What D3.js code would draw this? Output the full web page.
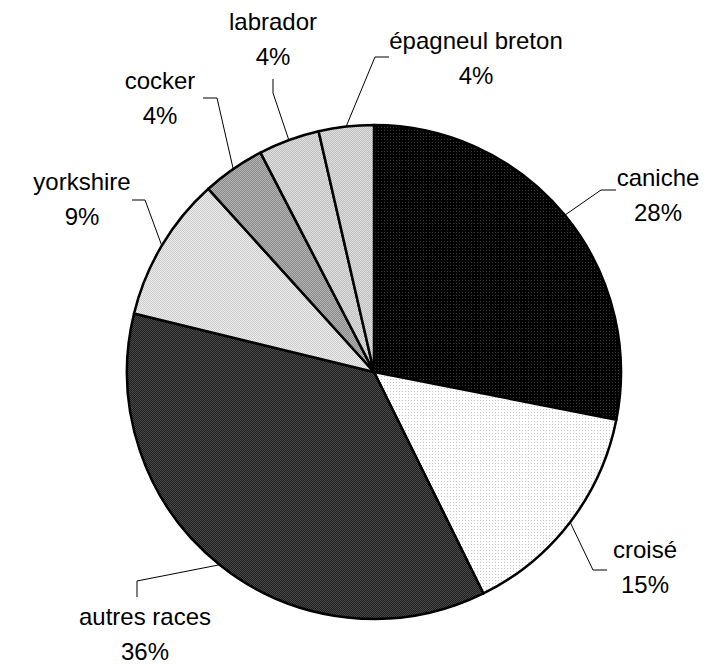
<!DOCTYPE html>
<html>
<head>
<meta charset="utf-8">
<script src="https://cdn.jsdelivr.net/npm/d3@7"></script>
<style>
html,body{margin:0;padding:0;background:#fff;}
svg{display:block;}
text{font-family:"Liberation Sans",Arial,sans-serif;font-size:24px;fill:#000;}
</style>
</head>
<body>
<svg id="chart" width="715" height="668"></svg>
<script>
// ---- data ----
const categories = ["caniche", "croisé", "autres races", "yorkshire", "cocker", "labrador", "épagneul breton"];
const values = [28.1, 14.6, 36.1, 9.5, 4.1, 4.0, 3.6];
const pctLabels = ["28%", "15%", "36%", "9%", "4%", "4%", "4%"];

// ---- layout (positions/styles, separate from data) ----
const cx = 374, cy = 372, R = 247;
const fills = [
  {bg:"#000", fg:"#3a3a3a", kind:"dots"},
  {bg:"#fff", fg:"#c8c8c8", kind:"dots"},
  {bg:"#1e1e1e", fg:"#4a4a4a", kind:"check"},
  {bg:"#f0f0f0", fg:"#c8c8c8", kind:"check"},
  {bg:"#8a8a8a", fg:"#b4b4b4", kind:"check"},
  {bg:"#bdbdbd", fg:"#e0e0e0", kind:"check"},
  {bg:"#bdbdbd", fg:"#e0e0e0", kind:"check"}
];
// leader elbow, leader end, label centre x and first baseline y
const labelLayout = [
  {elbow:[601,190], end:[616,190], x:658, y:186},
  {elbow:[593,570], end:[607,570], x:645, y:558},
  {elbow:[137,581], end:[137,597], x:145, y:625},
  {elbow:[145,200], end:[132,200], x:82,  y:190},
  {elbow:[217,98],  end:[203,98],  x:160, y:89},
  {elbow:[273,93],  end:[273,79],  x:273, y:30},
  {elbow:[375,57],  end:[389,57],  x:476, y:49}
];
const lineGap = 35;

const svg = d3.select("#chart");
const defs = svg.append("defs");
fills.forEach((f, i) => {
  const p = defs.append("pattern")
    .attr("id", "pat" + i)
    .attr("patternUnits", "userSpaceOnUse")
    .attr("width", f.kind === "dots" ? 3 : 2)
    .attr("height", f.kind === "dots" ? 3 : 2);
  p.append("rect").attr("width", 3).attr("height", 3).attr("fill", f.bg);
  if (f.kind === "dots") {
    p.append("rect").attr("x", 1).attr("y", 1).attr("width", 1).attr("height", 1).attr("fill", f.fg);
  } else {
    p.append("rect").attr("x", 0).attr("y", 0).attr("width", 1).attr("height", 1).attr("fill", f.fg);
    p.append("rect").attr("x", 1).attr("y", 1).attr("width", 1).attr("height", 1).attr("fill", f.fg);
  }
});

const data = categories.map((c, i) => ({cat: c, value: values[i], pct: pctLabels[i], idx: i}));
const pie = d3.pie().value(d => d.value).sort(null);
const arcs = pie(data);
const arc = d3.arc().innerRadius(0).outerRadius(R);

const g = svg.append("g").attr("transform", `translate(${cx},${cy})`);
g.selectAll("path.slice")
  .data(arcs)
  .join("path")
  .attr("class", "slice")
  .attr("d", arc)
  .attr("fill", d => `url(#pat${d.data.idx})`)
  .attr("stroke", "#000")
  .attr("stroke-width", 2.5)
  .attr("stroke-linejoin", "round");

// leader lines and labels
arcs.forEach(a => {
  const L = labelLayout[a.data.idx];
  const mid = (a.startAngle + a.endAngle) / 2;
  const sx = cx + R * Math.sin(mid), sy = cy - R * Math.cos(mid);
  svg.append("polyline")
    .attr("points", [[sx, sy], L.elbow, L.end].map(p => p.join(",")).join(" "))
    .attr("fill", "none")
    .attr("stroke", "#000")
    .attr("stroke-width", 1);
  const t = svg.append("text").attr("text-anchor", "middle");
  t.append("tspan").attr("x", L.x).attr("y", L.y).text(a.data.cat);
  t.append("tspan").attr("x", L.x).attr("y", L.y + lineGap).text(a.data.pct);
});
</script>
</body>
</html>
